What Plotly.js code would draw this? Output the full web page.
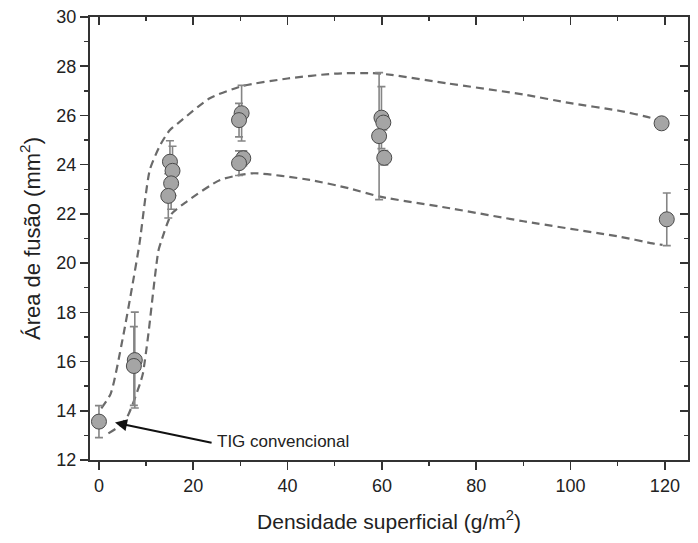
<!DOCTYPE html>
<html>
<head>
<meta charset="utf-8">
<script src="https://cdn.plot.ly/plotly-3.0.1.min.js"></script>
<style>html,body{margin:0;padding:0;background:#fff;}#chart{width:698px;height:543px;}</style>
</head>
<body>
<div id="chart"></div>
<script>
// Measured points (x jittered as in the figure), values and symmetric error
var densidade = [0, 7.6, 7.4, 15.05, 15.6, 15.3, 14.7, 30.25, 29.7, 30.6, 29.7, 59.9, 60.3, 59.4, 60.5, 119.3, 120.4];
var areaFusao = [13.56, 16.06, 15.82, 24.12, 23.75, 23.24, 22.73, 26.09, 25.81, 24.26, 24.06, 25.91, 25.71, 25.16, 24.28, 25.68, 21.78];
var erroArea  = [0.65, 1.95, 1.6, 0.85, 1.0, 1.05, 0.9, 1.13, 0.68, 0.3, 0.5, 1.26, 0.3, 2.58, 0.29, 0, 1.07];

// Upper envelope (dashed)
var supX = [0.5, 2.5, 5, 7, 8.6, 10.8, 13, 15, 17.5, 23.5, 30.5, 40, 50, 58, 62, 74, 90, 100, 110, 117.4, 119.3];
var supY = [14.1, 14.7, 16.9, 19.0, 20.8, 23.8, 24.8, 25.4, 25.8, 26.7, 27.2, 27.5, 27.7, 27.72, 27.65, 27.3, 26.85, 26.5, 26.2, 25.88, 25.68];
// Lower envelope (dashed)
var infX = [2, 4.5, 6.2, 8.7, 9.3, 10.4, 12.6, 13.3, 15.4, 18.6, 25.7, 32.6, 44.7, 53, 59.6, 74.4, 90, 110.5, 117.4, 119.5];
var infY = [13.08, 13.4, 13.83, 15.1, 15.5, 17.0, 20.5, 20.94, 22.0, 22.5, 23.38, 23.65, 23.38, 23.04, 22.7, 22.23, 21.7, 21.07, 20.8, 20.74];

var xTicks = [0, 20, 40, 60, 80, 100, 120];
var yTicks = [12, 14, 16, 18, 20, 22, 24, 26, 28, 30];

var dashStyle = {color: '#6a6a6a', width: 2.2, dash: '8px,5px', shape: 'spline', smoothing: 0.6};
var traces = [
  {x: supX, y: supY, mode: 'lines', line: dashStyle, hoverinfo: 'skip', showlegend: false},
  {x: infX, y: infY, mode: 'lines', line: dashStyle, hoverinfo: 'skip', showlegend: false},
  {x: densidade, y: areaFusao, mode: 'markers', showlegend: false,
   marker: {size: 15, color: '#a5a5a5', line: {color: '#4a4a4a', width: 1}},
   error_y: {type: 'data', array: erroArea, visible: true, color: '#858585', thickness: 1.6, width: 4}},
  {x: [], y: [], xaxis: 'x2', yaxis: 'y2', mode: 'markers', showlegend: false}
];

var fontFam = 'Liberation Sans, Arial, sans-serif';
var layout = {
  width: 698, height: 543,
  margin: {l: 90, r: 10, t: 17, b: 83},
  paper_bgcolor: '#ffffff', plot_bgcolor: '#ffffff',
  font: {family: fontFam, color: '#222', size: 18},
  xaxis: {range: [-1.9, 124.9], tickvals: xTicks, ticktext: xTicks.map(String), ticks: 'outside', ticklen: 8, tickwidth: 1.6, tickcolor: '#333',
          minor: {dtick: 10, tick0: 0, ticks: 'outside', ticklen: 4, tickwidth: 1.4, tickcolor: '#333'},
          showline: true, linecolor: '#333', linewidth: 2, showgrid: false, zeroline: false,
          tickfont: {size: 18, color: '#222'},
          title: {text: 'Densidade superficial (g/m<sup>2</sup>)', font: {size: 21, color: '#222'}, standoff: 20}},
  yaxis: {range: [12, 30], tickvals: yTicks, ticktext: yTicks.map(String), ticks: 'outside', ticklen: 8, tickwidth: 1.6, tickcolor: '#333',
          minor: {dtick: 1, tick0: 12, ticks: 'outside', ticklen: 4, tickwidth: 1.4, tickcolor: '#333'},
          showline: true, linecolor: '#333', linewidth: 2, showgrid: false, zeroline: false,
          tickfont: {size: 18, color: '#222'},
          title: {text: 'Área de fusão (mm<sup>2</sup>)', font: {size: 22, color: '#222'}, standoff: 10}},
  xaxis2: {overlaying: 'x', matches: 'x', side: 'top', tickvals: xTicks, showticklabels: false, ticks: 'inside', ticklen: 8, tickwidth: 1.6, tickcolor: '#333',
           minor: {dtick: 10, tick0: 0, ticks: 'inside', ticklen: 4, tickwidth: 1.4, tickcolor: '#333'},
           showline: true, linecolor: '#333', linewidth: 2, showgrid: false, zeroline: false},
  yaxis2: {overlaying: 'y', matches: 'y', side: 'right', tickvals: yTicks, showticklabels: false, ticks: 'inside', ticklen: 8, tickwidth: 1.6, tickcolor: '#333',
           minor: {dtick: 1, tick0: 12, ticks: 'inside', ticklen: 4, tickwidth: 1.4, tickcolor: '#333'},
           showline: true, linecolor: '#333', linewidth: 2, showgrid: false, zeroline: false},
  annotations: [
    {x: 3.4, y: 13.52, xref: 'x', yref: 'y', ax: 24.2, ay: 12.69, axref: 'x', ayref: 'y', text: '', showarrow: true,
     arrowhead: 2, arrowsize: 1.2, arrowwidth: 2, arrowcolor: '#111', standoff: 0},
    {x: 24.6, y: 12.77, xref: 'x', yref: 'y', text: 'TIG convencional', showarrow: false, xanchor: 'left', yanchor: 'middle',
     font: {size: 17, color: '#222', family: fontFam}}
  ]
};
Plotly.newPlot('chart', traces, layout, {displayModeBar: false, staticPlot: true});
</script>
</body>
</html>
